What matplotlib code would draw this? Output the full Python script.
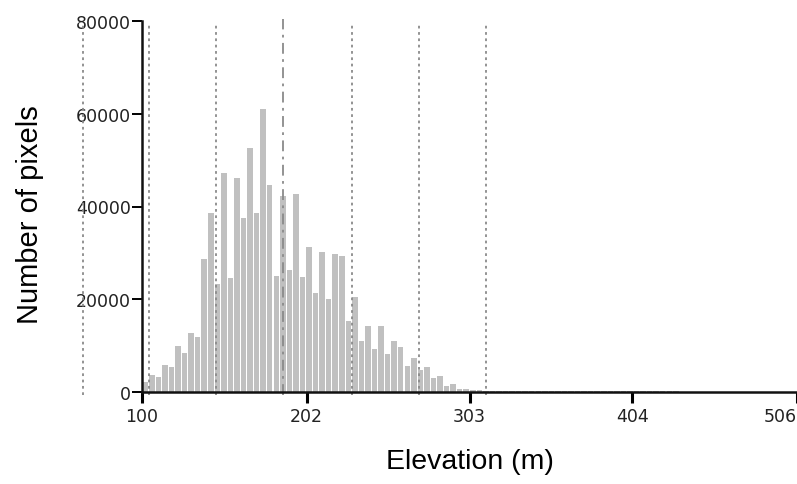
import matplotlib
matplotlib.use("Agg")
import matplotlib.pyplot as plt

# histogram: 100 bins from 100 m to 506 m
bin_lo = 100.0
bin_hi = 506.0
counts = [
    2200, 3600, 3300, 5800, 5300, 9900, 8400, 12800, 11900, 28600,
    38600, 23200, 47300, 24600, 46200, 37500, 52600, 38500, 61100, 44600,
    25100, 42300, 26200, 42700, 24800, 31200, 21300, 30100, 20100, 29700,
    29400, 15400, 20400, 11000, 14300, 9300, 14300, 8200, 11100, 9600,
    5600, 7400, 4700, 5300, 3100, 3400, 1300, 1700, 600, 600,
    400, 350, 300, 280, 260, 250, 240, 230, 240, 250,
    240, 230, 220, 230, 240, 250, 260, 280, 300, 320,
    300, 280, 300, 320, 300, 280, 250, 230, 200, 180,
    160, 120, 0, 0, 0, 0, 0, 0, 0, 0,
    0, 0, 0, 0, 0, 0, 0, 0, 0, 0,
]

# mean and +/- 1, 2, 3 standard deviations
sd_lines = [63.6, 104.6, 145.9, 230.0, 271.5, 313.4]
mean_line = 187.3

x_ticks = [100, 202, 303, 404, 506]
y_ticks = [0, 20000, 40000, 60000, 80000]

width = (bin_hi - bin_lo) / len(counts)
centers = [bin_lo + (i + 0.5) * width for i in range(len(counts))]

fig = plt.figure(figsize=(7.97, 4.85), dpi=100)
ax = fig.add_axes([142 / 797, 1 - 393 / 485, (797 - 142) / 797, (393 - 22) / 485])

ax.bar(centers, counts, width=width * 0.84, color="#c0c0c0", edgecolor="none", zorder=1)

for x in sd_lines:
    ax.plot([x, x], [-600, 79400], color="#8a8a8a", lw=1.3,
            linestyle=(0, (1.5, 2.0)), clip_on=False, zorder=2)
ax.plot([mean_line, mean_line], [-600, 80500], color="#8a8a8a", lw=1.3,
        linestyle=(0, (6, 3, 1.5, 3)), clip_on=False, zorder=2)

ax.set_xlim(bin_lo, bin_hi)
ax.set_ylim(0, 80000)
ax.set_xticks(x_ticks)
ax.set_xticklabels([str(t) for t in x_ticks])
ax.set_yticks(y_ticks)
ax.set_yticklabels([str(t) for t in y_ticks])
ax.get_xticklabels()[-1].set_horizontalalignment("right")

for s in ["top", "right"]:
    ax.spines[s].set_visible(False)
for s in ["left", "bottom"]:
    ax.spines[s].set_linewidth(1.8)
    ax.spines[s].set_color("#111111")

ax.tick_params(axis="x", direction="out", length=8, width=2.2, pad=3,
               labelsize=12.5, labelcolor="#222222")
ax.tick_params(axis="y", direction="out", length=7, width=1.4, pad=1,
               labelsize=12.5, labelcolor="#222222")

fig.text((142 + 797) / 2 / 797, 1 - 462 / 485, "Elevation (m)",
         ha="center", va="center", fontsize=20.5, family="Liberation Sans")
fig.text(30 / 797, 1 - 215 / 485, "Number of pixels", rotation=90,
         ha="center", va="center", fontsize=21, family="Liberation Sans")

fig.savefig("out.png", dpi=100, facecolor="white")
